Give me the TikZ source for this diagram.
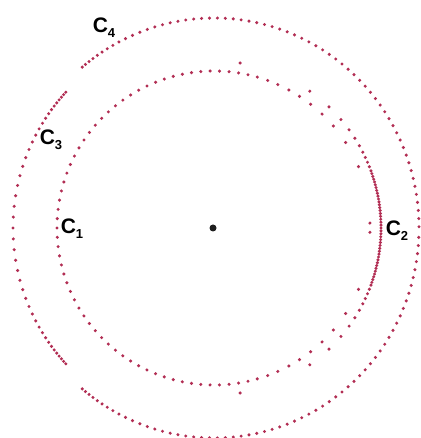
\documentclass[tikz,border=0pt]{standalone}
\usepackage{fontspec}
\setmainfont{Liberation Sans}
\usepackage{tikz}

\definecolor{dotred}{RGB}{178,46,84}
\definecolor{ctrdot}{RGB}{30,30,30}
\newcommand{\curvelab}[1]{\textbf{C}\raisebox{-0.45ex}{\fontsize{13}{13}\selectfont\textbf{#1}}}

\begin{document}
\begin{tikzpicture}[
  x=1pt, y=1pt,
  pt/.style={fill=dotred},
  lbl/.style={font=\fontsize{21}{21}\selectfont, inner sep=0pt},
  centre/.style={circle, fill=ctrdot, inner sep=0pt, minimum size=7pt}
]
  \useasboundingbox (0,0) rectangle (420,438);
  \node[centre] (o) at (213,210) {};

  \begin{scope}[shift={(214,210)}]
    % C1: inner loop, thinning out towards C2
    \foreach \k in {0,...,54}
      \fill[pt] ({88+3.407*\k}:157) circle (1.7);
    \foreach \a in {23,33,40.5,46.5,52,57,61.5,66,70,74,77.5,81,84.5} {
      \fill[pt] (\a:157) circle (1.7);
      \fill[pt] (-\a:157) circle (1.7);
    }
    \fill[pt] (1.8:156) circle (1.7);
    \fill[pt] (-1.6:156) circle (1.7);

    % C2: second branch, piling up at C2
    \foreach \a in {81,55,46.5,40.5,36,32.5,29.5,27,25,23.2,21.5} {
      \fill[pt] (\a:167) circle (1.7);
      \fill[pt] (-\a:167) circle (1.7);
    }
    \foreach \k in {-20,...,20}
      \fill[pt] (\k:167) circle (1.7);

    % C3: left arc
    \foreach \k in {0,...,42} {
      \pgfmathsetmacro\u{\k/42}
      \pgfmathsetmacro\t{137.5+85*(\u-0.54*sin(360*\u)/6.2832)}
      \fill[pt] (\t:201) circle (1.7);
    }

    % C4: outer loop, denser at both ends
    \foreach \k in {0,...,61} {
      \pgfmathsetmacro\s{\k<10 ? 4*\k+0.2*\k*\k : 60+8.03*(\k-10)}
      \pgfmathsetmacro\t{\s/207.5*57.2958}
      \fill[pt] ({130-\t}:205 and 210) circle (1.7);
      \ifnum\k<61 \fill[pt] ({-130+\t}:205 and 210) circle (1.7); \fi
    }
  \end{scope}

  \node[lbl] (c1) at (72,209) {\curvelab{1}};
  \node[lbl] (c2) at (397,207) {\curvelab{2}};
  \node[lbl] (c3) at (51,298) {\curvelab{3}};
  \node[lbl] (c4) at (104,410) {\curvelab{4}};
\end{tikzpicture}
\end{document}
